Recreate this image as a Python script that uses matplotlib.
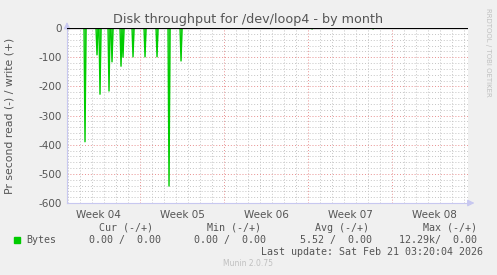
import numpy as np
import matplotlib
matplotlib.use("Agg")
import matplotlib.pyplot as plt

# time in days relative to Monday 26 Jan 2026 00:00 (start of week 05)
x_start = -6.08
x_end = 27.33

# spikes of read throughput (negative = read), days / bytes per second
spike_days = [-4.58, -3.58, -3.37, -2.58, -2.37, -1.58, -1.39, -0.56,
              0.44, 1.44, 2.46, 3.44, 14.33, 19.42]
spike_vals = [-390, -92, -227, -216, -116, -131, -100, -99,
              -99, -99, -542, -113, -3, -3]

week_names = ["Week 04", "Week 05", "Week 06", "Week 07", "Week 08"]
week_starts = [-7, 0, 7, 14, 21]

legend_head = ["Cur (-/+)", "Min (-/+)", "Avg (-/+)", "Max (-/+)"]
legend_vals = ["0.00 /  0.00", "0.00 /  0.00", "5.52 /  0.00", "12.29k/  0.00"]

# rrd samples every 2 hours
t = np.arange(x_start, x_end, 1 / 12)
v = np.zeros_like(t)
for d, val in zip(spike_days, spike_vals):
    v[np.argmin(np.abs(t - d))] = val

bg = "#f0f0f0"
txt = "#555555"
fig = plt.figure(figsize=(4.97, 2.75), dpi=100, facecolor=bg)
ax = fig.add_axes([67 / 497, 72 / 275, 401 / 497, 175 / 275])
ax.set_facecolor("white")

# grid
minor_c = "#c4c4c4"
major_c = "#e89090"
for d in np.arange(-6, 28, 1):
    if d % 7 != 0:
        ax.axvline(d, color=minor_c, lw=0.7, ls=(0, (1, 2)), zorder=1)
for d in week_starts[1:]:
    ax.axvline(d, color=major_c, lw=0.7, ls=(0, (1, 2)), zorder=1)
for y in range(-580, 0, 20):
    if y % 100 != 0:
        ax.axhline(y, color=minor_c, lw=0.7, ls=(0, (1, 2)), zorder=1)
for y in range(-500, 0, 100):
    ax.axhline(y, color=major_c, lw=0.7, ls=(0, (1, 2)), zorder=1)

ax.fill_between(t, v, 0, color="#66dd66", lw=0, zorder=2)
ax.plot(t, v, color="#00cc00", lw=1.0, zorder=3)
ax.axhline(0, color="black", lw=0.9, zorder=4)

ax.set_xlim(x_start, x_end)
ax.set_ylim(-600, 0)
for s in ["top", "right"]:
    ax.spines[s].set_visible(False)
for s in ["left", "bottom"]:
    ax.spines[s].set_color("#c8c8f0")
    ax.spines[s].set_linewidth(0.8)

ax.set_yticks(range(-600, 1, 100))
ax.set_yticklabels([str(y) for y in range(-600, 1, 100)])
ax.set_xticks([w + 3.5 for w in week_starts])
ax.set_xticklabels(week_names)
ax.tick_params(axis="both", length=0, labelsize=7.5, labelcolor=txt, pad=4)
ax.tick_params(axis="x", pad=5)

# axis arrows
ax.annotate("", xy=(1.023, 0), xytext=(1.0, 0), xycoords="axes fraction",
            arrowprops=dict(arrowstyle="-|>", color="#c8c8f0", lw=0.8))
ax.annotate("", xy=(0, 1.05), xytext=(0, 1.0), xycoords="axes fraction",
            arrowprops=dict(arrowstyle="-|>", color="#c8c8f0", lw=0.8))

fig.text(248 / 497, 1 - 19 / 275, "Disk throughput for /dev/loop4 - by month",
         ha="center", va="center", fontsize=9.2, color=txt)
fig.text(10 / 497, 1 - 116 / 275, "Pr second read (-) / write (+)",
         ha="center", va="center", rotation=90, fontsize=7.8, color=txt)
fig.text(488 / 497, 1 - 52 / 275, "RRDTOOL / TOBI OETIKER", ha="center",
         va="center", rotation=270, fontsize=5, color="#c0c0c0")

mono = "DejaVu Sans Mono"
fs = 7.2
head_x = [99, 207, 315, 423]
val_x = [89, 194, 300, 399]
for hx, h in zip(head_x, legend_head):
    fig.text(hx / 497, 1 - 228 / 275, h, ha="left", va="center",
             family=mono, fontsize=fs, color=txt)
fig.patches.append(plt.Rectangle((14 / 497, 1 - 243 / 275), 6 / 497, 6 / 275,
                                 transform=fig.transFigure, color="#00cc00"))
fig.text(26 / 497, 1 - 240 / 275, "Bytes", ha="left", va="center",
         family=mono, fontsize=fs, color=txt)
for vx, s in zip(val_x, legend_vals):
    fig.text(vx / 497, 1 - 240 / 275, s, ha="left", va="center",
             family=mono, fontsize=fs, color=txt)
fig.text(483 / 497, 1 - 252 / 275, "Last update: Sat Feb 21 03:20:04 2026",
         ha="right", va="center", family=mono, fontsize=fs, color=txt)
fig.text(248 / 497, 1 - 264 / 275, "Munin 2.0.75", ha="center", va="center",
         fontsize=5.5, color="#c0c0c0")

fig.savefig("out.png", dpi=100, facecolor=bg)
